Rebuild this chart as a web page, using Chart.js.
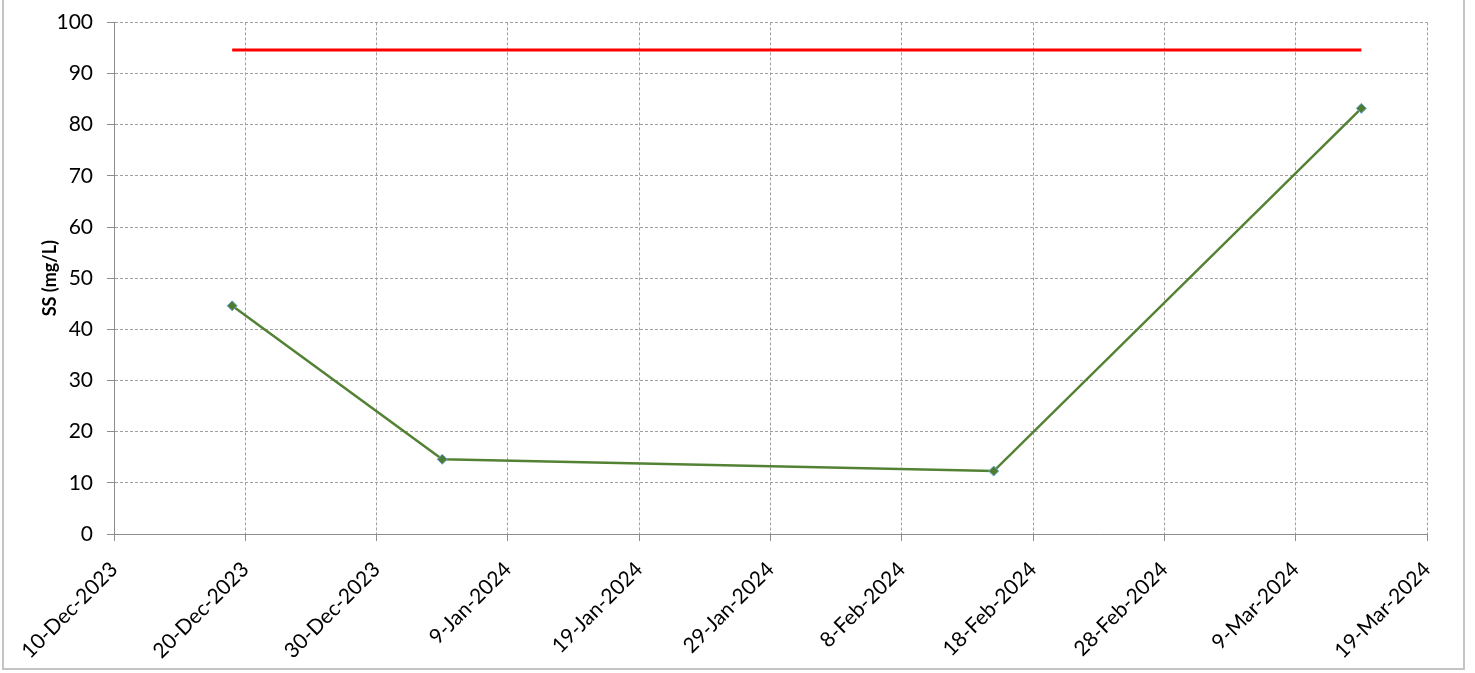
<!DOCTYPE html>
<html>
<head>
<meta charset="utf-8">
<script src="https://cdn.jsdelivr.net/npm/chart.js@4.4.1/dist/chart.umd.min.js"></script>
<style>
    html, body { margin: 0; padding: 0; background: #ffffff; }
    #wrap { position: relative; width: 1475px; height: 673px; }
    #frame {
        position: absolute; left: 2px; top: -2px; width: 1463px; height: 672px;
        border: 2px solid #c4c4c4; box-sizing: border-box; pointer-events: none;
    }
</style>
</head>
<body>
<div id="wrap">
    <canvas id="ssChart" width="1475" height="673"></canvas>
    <div id="frame"></div>
</div>
<script>
// ============================================================================
// DATA
// ============================================================================

const sampleDates = ['2023-12-19', '2024-01-04', '2024-02-15', '2024-03-14'];
const ssValues = [44.6, 14.6, 12.3, 83.2];

const limitDates = ['2023-12-19', '2024-03-14'];
const limitValues = [94.6, 94.6];

const xAxisStart = '2023-12-10';
const xAxisEnd = '2024-03-19';
const xStepDays = 10;
const yMin = 0, yMax = 100, yStep = 10;

const monthNames = ['Jan', 'Feb', 'Mar', 'Apr', 'May', 'Jun', 'Jul', 'Aug', 'Sep', 'Oct', 'Nov', 'Dec'];

// day number since epoch, so a linear axis can be used without a date adapter
function toDay(iso) {
    const [y, m, d] = iso.split('-').map(Number);
    return Date.UTC(y, m - 1, d) / 86400000;
}

function formatDay(day) {
    const dt = new Date(Math.round(day) * 86400000);
    return dt.getUTCDate() + '-' + monthNames[dt.getUTCMonth()] + '-' + dt.getUTCFullYear();
}

const ssPoints = sampleDates.map((d, i) => ({ x: toDay(d), y: ssValues[i] }));
const limitPoints = limitDates.map((d, i) => ({ x: toDay(d), y: limitValues[i] }));

// ============================================================================
// CHART
// ============================================================================

const FONT = "Lato, 'Open Sans', sans-serif";
const gridColor = '#a0a0a0';
const axisColor = '#8c8c8c';

new Chart(document.getElementById('ssChart'), {
    type: 'line',
    data: {
        datasets: [
            {
                label: 'Limit',
                data: limitPoints,
                borderColor: '#ff0000',
                borderWidth: 3,
                pointRadius: 0,
                tension: 0
            },
            {
                label: 'SS',
                data: ssPoints,
                borderColor: '#548235',
                borderWidth: 2.5,
                pointStyle: 'rectRot',
                pointRadius: 5,
                pointBackgroundColor: '#4f7d2f',
                pointBorderColor: '#6aa5d8',
                pointBorderWidth: 1,
                tension: 0
            }
        ]
    },
    options: {
        responsive: false,
        animation: false,
        layout: { padding: { left: 20, right: 48, top: 0, bottom: 0 } },
        plugins: {
            legend: { display: false },
            tooltip: { enabled: false }
        },
        scales: {
            x: {
                type: 'linear',
                min: toDay(xAxisStart),
                max: toDay(xAxisEnd),
                afterBuildTicks: (scale) => {
                    const ticks = [];
                    for (let v = toDay(xAxisStart); v <= toDay(xAxisEnd); v += xStepDays) ticks.push({ value: v });
                    scale.ticks = ticks;
                },
                afterFit: (scale) => { scale.height = 673 - 534; },
                grid: {
                    color: gridColor,
                    lineWidth: 1,
                    drawTicks: true,
                    tickLength: 7,
                    tickColor: axisColor
                },
                border: { display: true, color: axisColor, width: 1, dash: [3, 2] },
                ticks: {
                    color: '#000000',
                    font: { family: FONT, size: 21 },
                    maxRotation: 45,
                    minRotation: 45,
                    padding: 16,
                    autoSkip: false,
                    callback: (v) => formatDay(v)
                }
            },
            y: {
                min: yMin,
                max: yMax,
                afterFit: (scale) => { scale.width = 114 - 20; },
                grid: {
                    color: gridColor,
                    lineWidth: 1,
                    drawTicks: true,
                    tickLength: 7,
                    tickColor: axisColor
                },
                border: { display: true, color: axisColor, width: 1, dash: [3, 2] },
                ticks: {
                    stepSize: yStep,
                    color: '#000000',
                    font: { family: FONT, size: 21, lineHeight: 0.8 },
                    padding: 14
                },
                title: {
                    display: true,
                    text: 'SS (mg/L)',
                    color: '#000000',
                    font: { family: FONT, size: 18, weight: 'bold' },
                    padding: { top: 19, bottom: 0 }
                }
            }
        }
    }
});
</script>
</body>
</html>
